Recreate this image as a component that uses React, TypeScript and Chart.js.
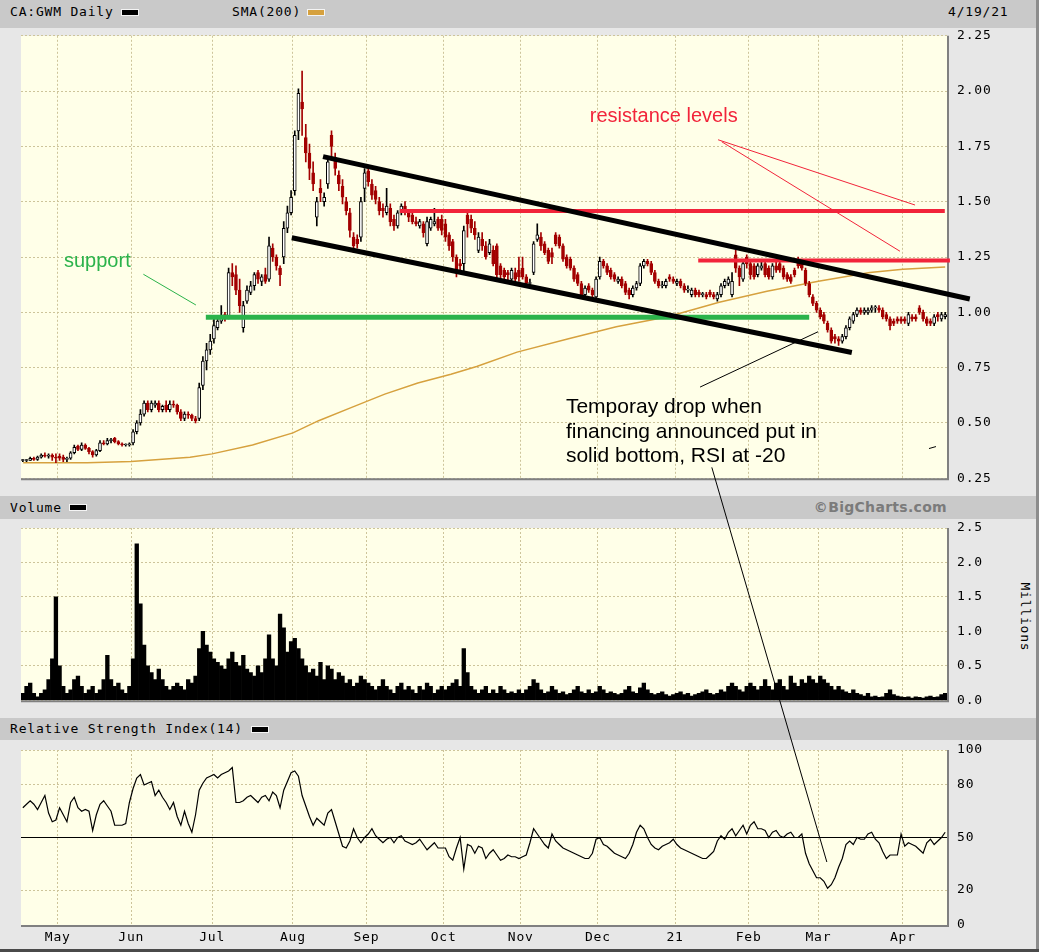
import { useEffect, useRef } from 'react';
import { Chart, registerables } from 'chart.js';

Chart.register(...registerables);

// ---------- axes ----------
const DAYS = 252;
const monthStarts = [10, 30, 52, 74, 94, 115, 136, 157, 178, 198, 217, 240];
const monthLabels = ['May', 'Jun', 'Jul', 'Aug', 'Sep', 'Oct', 'Nov', 'Dec', '21', 'Feb', 'Mar', 'Apr'];
const priceTicks = [0.25, 0.5, 0.75, 1.0, 1.25, 1.5, 1.75, 2.0, 2.25];
const volumeTicks = [0, 0.5, 1.0, 1.5, 2.0, 2.5];
const rsiTicks = [0, 20, 50, 80, 100];

// ---------- daily candles [open, high, low, close] ----------
const apr20 = [
  [0.33, 0.335, 0.325, 0.33], [0.33, 0.335, 0.325, 0.33], [0.33, 0.345, 0.33, 0.34], [0.34, 0.345, 0.33, 0.335],
  [0.335, 0.35, 0.33, 0.345], [0.345, 0.36, 0.34, 0.355], [0.355, 0.365, 0.345, 0.35], [0.35, 0.36, 0.34, 0.355],
  [0.355, 0.36, 0.33, 0.345], [0.345, 0.36, 0.32, 0.34],
];
const may20 = [
  [0.35, 0.36, 0.33, 0.34], [0.345, 0.355, 0.325, 0.335], [0.335, 0.345, 0.325, 0.34], [0.34, 0.37, 0.335, 0.365],
  [0.365, 0.40, 0.36, 0.39], [0.395, 0.40, 0.375, 0.38], [0.38, 0.41, 0.375, 0.40], [0.40, 0.405, 0.38, 0.385],
  [0.385, 0.39, 0.36, 0.37], [0.37, 0.375, 0.345, 0.355], [0.355, 0.38, 0.35, 0.375], [0.375, 0.42, 0.37, 0.41],
  [0.41, 0.42, 0.40, 0.405], [0.405, 0.43, 0.40, 0.42], [0.42, 0.43, 0.41, 0.425], [0.43, 0.435, 0.41, 0.415],
  [0.415, 0.42, 0.40, 0.405], [0.405, 0.41, 0.395, 0.40], [0.40, 0.405, 0.395, 0.40], [0.40, 0.41, 0.395, 0.405],
];
const jun20 = [
  [0.41, 0.47, 0.40, 0.46], [0.46, 0.51, 0.45, 0.50], [0.50, 0.56, 0.49, 0.54], [0.54, 0.60, 0.53, 0.59],
  [0.59, 0.60, 0.55, 0.56], [0.56, 0.60, 0.55, 0.59], [0.58, 0.60, 0.57, 0.59], [0.59, 0.60, 0.55, 0.56],
  [0.56, 0.58, 0.55, 0.575], [0.58, 0.60, 0.55, 0.56], [0.56, 0.60, 0.55, 0.585], [0.585, 0.60, 0.57, 0.58],
  [0.58, 0.585, 0.54, 0.55], [0.55, 0.56, 0.51, 0.52], [0.52, 0.55, 0.51, 0.54], [0.54, 0.55, 0.52, 0.535],
  [0.535, 0.54, 0.51, 0.52], [0.52, 0.53, 0.50, 0.51], [0.52, 0.68, 0.51, 0.66], [0.67, 0.80, 0.65, 0.78],
  [0.78, 0.86, 0.74, 0.83], [0.83, 0.90, 0.81, 0.87],
];
const jul20 = [
  [0.88, 0.97, 0.86, 0.94], [0.93, 0.97, 0.92, 0.96], [0.96, 1.03, 0.95, 0.98], [0.99, 1.00, 0.96, 0.97],
  [0.98, 1.20, 0.97, 1.18], [1.18, 1.22, 1.12, 1.16], [1.17, 1.21, 1.08, 1.10], [1.10, 1.15, 1.00, 1.03],
  [0.93, 1.05, 0.91, 1.03], [1.05, 1.12, 1.04, 1.10], [1.09, 1.14, 1.08, 1.12], [1.12, 1.18, 1.10, 1.17],
  [1.18, 1.19, 1.13, 1.15], [1.14, 1.17, 1.12, 1.16], [1.17, 1.20, 1.13, 1.14], [1.15, 1.34, 1.14, 1.30],
  [1.29, 1.31, 1.23, 1.25], [1.25, 1.26, 1.19, 1.21], [1.20, 1.21, 1.12, 1.17], [1.25, 1.41, 1.22, 1.38],
  [1.38, 1.48, 1.36, 1.45], [1.45, 1.55, 1.44, 1.52],
];
const aug20 = [
  [1.55, 1.82, 1.53, 1.80], [1.82, 2.01, 1.78, 1.99], [1.95, 2.09, 1.80, 1.92], [1.79, 1.85, 1.68, 1.72],
  [1.72, 1.76, 1.60, 1.65], [1.63, 1.68, 1.55, 1.58], [1.43, 1.52, 1.39, 1.50], [1.56, 1.60, 1.50, 1.54],
  [1.50, 1.54, 1.48, 1.52], [1.58, 1.70, 1.56, 1.68], [1.80, 1.82, 1.70, 1.75], [1.70, 1.72, 1.62, 1.65],
  [1.62, 1.64, 1.55, 1.58], [1.57, 1.60, 1.49, 1.52], [1.50, 1.52, 1.44, 1.46], [1.45, 1.47, 1.34, 1.37],
  [1.34, 1.36, 1.27, 1.30], [1.33, 1.35, 1.29, 1.31], [1.34, 1.52, 1.32, 1.50], [1.56, 1.65, 1.50, 1.63],
];
const sep20 = [
  [1.64, 1.66, 1.57, 1.59], [1.58, 1.60, 1.51, 1.53], [1.55, 1.57, 1.49, 1.51], [1.50, 1.52, 1.44, 1.46],
  [1.47, 1.49, 1.43, 1.46], [1.45, 1.56, 1.44, 1.48], [1.47, 1.49, 1.39, 1.41], [1.42, 1.44, 1.37, 1.39],
  [1.39, 1.46, 1.38, 1.45], [1.45, 1.49, 1.44, 1.48], [1.48, 1.50, 1.44, 1.45], [1.45, 1.46, 1.41, 1.43],
  [1.44, 1.45, 1.40, 1.41], [1.41, 1.43, 1.39, 1.40], [1.39, 1.42, 1.38, 1.41], [1.40, 1.41, 1.34, 1.36],
  [1.31, 1.43, 1.30, 1.41], [1.38, 1.43, 1.37, 1.42], [1.40, 1.47, 1.39, 1.41], [1.42, 1.43, 1.37, 1.38],
  [1.42, 1.44, 1.35, 1.37],
];
const oct20 = [
  [1.40, 1.42, 1.32, 1.34], [1.35, 1.36, 1.28, 1.30], [1.32, 1.33, 1.23, 1.25], [1.25, 1.26, 1.16, 1.19],
  [1.22, 1.24, 1.19, 1.21], [1.22, 1.39, 1.17, 1.37], [1.44, 1.46, 1.34, 1.40], [1.42, 1.44, 1.36, 1.38],
  [1.38, 1.41, 1.33, 1.35], [1.28, 1.36, 1.27, 1.34], [1.33, 1.36, 1.28, 1.30], [1.30, 1.32, 1.24, 1.25],
  [1.27, 1.33, 1.26, 1.31], [1.28, 1.30, 1.21, 1.22], [1.30, 1.31, 1.15, 1.17], [1.21, 1.22, 1.15, 1.17],
  [1.19, 1.20, 1.14, 1.16], [1.18, 1.19, 1.14, 1.17], [1.15, 1.20, 1.14, 1.19], [1.18, 1.20, 1.13, 1.15],
  [1.19, 1.25, 1.14, 1.16],
];
const nov20 = [
  [1.20, 1.25, 1.15, 1.16], [1.16, 1.17, 1.12, 1.13], [1.13, 1.15, 1.12, 1.13], [1.18, 1.32, 1.17, 1.31],
  [1.33, 1.40, 1.32, 1.35], [1.34, 1.36, 1.28, 1.30], [1.31, 1.32, 1.26, 1.27], [1.28, 1.29, 1.22, 1.23],
  [1.27, 1.29, 1.22, 1.25], [1.35, 1.36, 1.30, 1.31], [1.34, 1.35, 1.29, 1.30], [1.30, 1.31, 1.23, 1.24],
  [1.25, 1.26, 1.20, 1.21], [1.24, 1.25, 1.19, 1.20], [1.20, 1.21, 1.14, 1.15], [1.17, 1.18, 1.12, 1.13],
  [1.13, 1.14, 1.07, 1.08], [1.08, 1.12, 1.07, 1.11], [1.12, 1.13, 1.09, 1.10], [1.10, 1.11, 1.06, 1.08],
  [1.07, 1.16, 1.06, 1.15],
];
const dec20 = [
  [1.16, 1.25, 1.15, 1.23], [1.23, 1.24, 1.20, 1.21], [1.21, 1.22, 1.17, 1.18], [1.19, 1.20, 1.15, 1.16],
  [1.17, 1.18, 1.14, 1.15], [1.14, 1.16, 1.13, 1.15], [1.15, 1.16, 1.11, 1.12], [1.13, 1.14, 1.08, 1.09],
  [1.10, 1.11, 1.06, 1.08], [1.08, 1.12, 1.07, 1.11], [1.11, 1.14, 1.10, 1.13], [1.13, 1.22, 1.12, 1.21],
  [1.21, 1.24, 1.20, 1.23], [1.23, 1.24, 1.21, 1.22], [1.22, 1.23, 1.17, 1.18], [1.18, 1.19, 1.13, 1.14],
  [1.14, 1.15, 1.11, 1.12], [1.12, 1.14, 1.11, 1.12], [1.12, 1.15, 1.11, 1.14], [1.16, 1.17, 1.14, 1.15],
  [1.15, 1.16, 1.13, 1.14],
];
const jan21 = [
  [1.13, 1.15, 1.12, 1.14], [1.14, 1.15, 1.11, 1.12], [1.12, 1.13, 1.09, 1.10], [1.10, 1.12, 1.09, 1.10],
  [1.08, 1.11, 1.07, 1.10], [1.10, 1.11, 1.07, 1.08], [1.09, 1.10, 1.07, 1.08], [1.08, 1.09, 1.07, 1.08],
  [1.08, 1.09, 1.06, 1.07], [1.09, 1.10, 1.07, 1.08], [1.08, 1.09, 1.06, 1.07], [1.06, 1.09, 1.05, 1.08],
  [1.08, 1.13, 1.07, 1.12], [1.12, 1.15, 1.11, 1.14], [1.13, 1.16, 1.12, 1.15], [1.08, 1.18, 1.07, 1.14],
  [1.26, 1.28, 1.18, 1.20], [1.20, 1.21, 1.12, 1.16], [1.15, 1.24, 1.14, 1.22], [1.25, 1.26, 1.20, 1.22],
];
const feb21 = [
  [1.22, 1.23, 1.15, 1.17], [1.21, 1.22, 1.15, 1.16], [1.17, 1.22, 1.16, 1.21], [1.20, 1.23, 1.19, 1.21],
  [1.22, 1.23, 1.16, 1.17], [1.20, 1.21, 1.15, 1.16], [1.16, 1.22, 1.15, 1.21], [1.21, 1.23, 1.18, 1.19],
  [1.22, 1.24, 1.18, 1.19], [1.20, 1.21, 1.15, 1.16], [1.17, 1.18, 1.14, 1.15], [1.16, 1.17, 1.13, 1.14],
  [1.19, 1.20, 1.16, 1.17], [1.23, 1.25, 1.20, 1.21], [1.22, 1.24, 1.19, 1.20], [1.19, 1.20, 1.12, 1.13],
  [1.13, 1.14, 1.07, 1.08], [1.07, 1.08, 1.03, 1.04], [1.04, 1.05, 1.00, 1.01],
];
const mar21 = [
  [1.01, 1.02, 0.97, 0.98], [0.99, 1.00, 0.95, 0.96], [0.95, 0.96, 0.91, 0.92], [0.92, 0.93, 0.86, 0.87],
  [0.89, 0.90, 0.86, 0.88], [0.88, 0.89, 0.85, 0.87], [0.87, 0.90, 0.86, 0.89], [0.89, 0.94, 0.88, 0.93],
  [0.93, 0.98, 0.92, 0.97], [0.96, 1.00, 0.95, 0.99], [0.99, 1.02, 0.98, 1.01], [1.01, 1.02, 0.99, 1.00],
  [1.00, 1.02, 0.99, 1.01], [1.00, 1.02, 0.99, 1.01], [1.01, 1.03, 1.00, 1.02], [1.02, 1.03, 1.00, 1.02],
  [1.02, 1.03, 1.00, 1.01], [1.01, 1.02, 0.97, 0.98], [0.99, 1.00, 0.96, 0.97], [0.97, 0.98, 0.92, 0.94],
  [0.96, 0.97, 0.94, 0.95], [0.97, 0.98, 0.95, 0.96], [0.97, 0.98, 0.95, 0.96],
];
const apr21 = [
  [0.97, 0.98, 0.95, 0.96], [0.95, 1.00, 0.94, 0.99], [0.98, 0.99, 0.96, 0.97], [0.98, 0.99, 0.96, 0.97],
  [1.02, 1.03, 0.99, 1.00], [1.00, 1.01, 0.96, 0.97], [0.97, 0.98, 0.94, 0.95], [0.96, 0.97, 0.94, 0.95],
  [0.95, 0.99, 0.94, 0.98], [0.99, 1.00, 0.96, 0.98], [0.97, 1.00, 0.96, 0.99], [0.98, 1.00, 0.97, 0.99],
];

// ---------- SMA(200) read at sample days ----------
const smaDay = [0.6, 18, 30, 46, 52, 63, 74, 81, 90, 99, 108, 117, 124, 135, 149, 162, 176, 190, 203, 217, 231, 240, 251.5];
const smaValue = [0.32, 0.32, 0.325, 0.345, 0.36, 0.40, 0.455, 0.51, 0.57, 0.63, 0.68, 0.72, 0.755, 0.82, 0.88, 0.935, 0.98, 1.045, 1.095, 1.14, 1.18, 1.195, 1.205];

// ---------- volume (millions) ----------
const volApr20 = [0.1, 0.2, 0.25, 0.1, 0.05, 0.1, 0.15, 0.3, 0.6, 1.5];
const volMay20 = [0.5, 0.2, 0.1, 0.15, 0.3, 0.35, 0.2, 0.1, 0.15, 0.2, 0.1, 0.15, 0.3, 0.65, 0.3, 0.2, 0.25, 0.15, 0.1, 0.2];
const volJun20 = [0.6, 2.27, 1.4, 0.8, 0.5, 0.4, 0.3, 0.45, 0.3, 0.2, 0.15, 0.2, 0.25, 0.2, 0.15, 0.3, 0.25, 0.35, 0.75, 1.0, 0.8, 0.7];
const volJul20 = [0.6, 0.55, 0.5, 0.45, 0.6, 0.7, 0.55, 0.5, 0.65, 0.45, 0.4, 0.35, 0.5, 0.4, 0.6, 0.95, 0.6, 0.5, 1.25, 1.05, 0.7, 0.85];
const volAug20 = [0.9, 0.75, 0.6, 0.5, 0.4, 0.45, 0.35, 0.55, 0.3, 0.5, 0.45, 0.3, 0.4, 0.35, 0.25, 0.3, 0.2, 0.25, 0.35, 0.3];
const volSep20 = [0.25, 0.2, 0.15, 0.2, 0.3, 0.2, 0.15, 0.1, 0.2, 0.25, 0.15, 0.2, 0.15, 0.1, 0.2, 0.15, 0.25, 0.2, 0.1, 0.15, 0.2];
const volOct20 = [0.15, 0.2, 0.25, 0.3, 0.2, 0.75, 0.4, 0.2, 0.15, 0.1, 0.15, 0.2, 0.1, 0.15, 0.1, 0.2, 0.15, 0.1, 0.12, 0.1, 0.15];
const volNov20 = [0.1, 0.15, 0.2, 0.3, 0.25, 0.15, 0.1, 0.12, 0.2, 0.15, 0.1, 0.12, 0.08, 0.1, 0.15, 0.2, 0.12, 0.1, 0.15, 0.1, 0.12];
const volDec20 = [0.2, 0.15, 0.1, 0.12, 0.1, 0.08, 0.1, 0.15, 0.2, 0.12, 0.1, 0.18, 0.25, 0.15, 0.1, 0.08, 0.1, 0.12, 0.08, 0.06, 0.08];
const volJan21 = [0.1, 0.12, 0.08, 0.1, 0.06, 0.08, 0.1, 0.12, 0.15, 0.1, 0.08, 0.1, 0.15, 0.12, 0.2, 0.25, 0.2, 0.15, 0.12, 0.2];
const volFeb21 = [0.25, 0.2, 0.15, 0.2, 0.3, 0.2, 0.15, 0.25, 0.3, 0.2, 0.15, 0.35, 0.25, 0.2, 0.3, 0.25, 0.35, 0.3, 0.25];
const volMar21 = [0.35, 0.3, 0.25, 0.2, 0.15, 0.2, 0.15, 0.12, 0.1, 0.15, 0.1, 0.08, 0.06, 0.1, 0.05, 0.06, 0.04, 0.05, 0.1, 0.15, 0.08, 0.06, 0.05];
const volApr21 = [0.04, 0.05, 0.03, 0.05, 0.04, 0.03, 0.05, 0.06, 0.04, 0.05, 0.08, 0.1];

// ---------- RSI(14) ----------
const rsiApr20 = [67, 69, 71, 69, 66, 70, 74, 64, 59, 60];
const rsiMay20 = [67, 63, 59, 70, 73, 67, 65, 66, 65, 54, 63, 69, 71, 68, 65, 57, 57, 57, 58, 70];
const rsiJun20 = [78, 84, 86, 80, 81, 82, 74, 77, 73, 70, 66, 70, 62, 57, 65, 58, 53, 63, 77, 81, 84, 85];
const rsiJul20 = [86, 84, 86, 87, 88, 90, 70, 70, 71, 73, 74, 72, 70, 73, 74, 71, 76, 74, 67, 77, 82, 87];
const rsiAug20 = [88, 85, 74, 68, 62, 57, 61, 59, 57, 64, 66, 59, 52, 45, 44, 48, 55, 50, 47, 50];
const rsiSep20 = [52, 55, 51, 49, 47, 49, 50, 47, 50, 51, 48, 47, 46, 47, 49, 46, 43, 45, 47, 44, 44];
const rsiOct20 = [44, 39, 37, 44, 50, 32, 46, 45, 41, 45, 44, 38, 41, 43, 40, 37, 38, 40, 39, 39, 38];
const rsiNov20 = [39, 40, 47, 55, 52, 49, 46, 44, 52, 48, 46, 44, 43, 42, 41, 40, 39, 38, 38, 41, 49];
const rsiDec20 = [50, 46, 45, 43, 41, 40, 39, 38, 41, 46, 53, 57, 55, 50, 46, 44, 43, 45, 46, 47, 49];
const rsiJan21 = [46, 44, 43, 42, 41, 40, 39, 38, 38, 40, 42, 48, 51, 49, 53, 55, 51, 54, 57, 52];
const rsiFeb21 = [57, 59, 55, 55, 54, 50, 53, 54, 51, 50, 52, 53, 50, 50, 52, 41, 35, 31, 27];
const rsiMar21 = [27, 25, 21, 23, 27, 33, 38, 46, 48, 46, 50, 49, 49, 52, 53, 49, 47, 42, 38, 40, 40, 40, 52];
const rsiApr21 = [45, 47, 46, 45, 43, 41, 47, 49, 46, 48, 50, 53];
const rsiMidline = 50;

// ---------- annotations: [trading-day, value] ----------
const channelUpper = [[82.2, 1.704], [258.2, 1.06]];
const channelLower = [[73.7, 1.337], [226.1, 0.818]];
const supportLine = [[50.3, 0.978], [214.5, 0.978]];
const resistanceHigh = [[103.1, 1.458], [251.4, 1.458]];
const resistanceLow = [[184.3, 1.234], [252.8, 1.234]];
const resistancePointerA = [[189.7, 1.78], [243.3, 1.485]];
const resistancePointerB = [[190.7, 1.771], [239.2, 1.276]];
const supportPointer = [[33.3, 1.172], [47.6, 1.033]];
const dropPointer = [[184.8, 0.662], [216.9, 0.912]];
const strayMark = [[247.1, 0.384], [249.0, 0.393]];
const rsiPointerStart = [188.0, 0.299]; // on price panel
const rsiPointerEnd = [219.3, 36]; // on RSI panel
const resistanceText = { text: 'resistance levels', at: [154.8, 1.883] };
const supportText = { text: 'support', at: [11.7, 1.23] };
const dropText = [
  { text: 'Temporay drop when', at: [148.3, 0.572] },
  { text: 'financing announced put in', at: [148.3, 0.456] },
  { text: 'solid bottom, RSI at -20', at: [148.3, 0.349] },
];

// ---------- styling / layout ----------
const W = 1039;
const H = 952;
const PRICE_TOP = 18, PRICE_H = 478;
const VOL_TOP = 510, VOL_H = 208;
const RSI_TOP = 732, RSI_H = 220;
const FONT = 'DejaVu Sans Mono';
const tickFont = { family: FONT, size: 13 };
const GRID = '#cdc49a';
const PLOT_BG = '#ffffe8';
const RED = '#a30000';
const SMA_COLOR = '#d6a13e';
const LINE_RED = '#f2243a';
const LINE_GREEN = '#2bb34b';

function xScale(showLabels: boolean) {
  return {
    type: 'linear', min: 0, max: DAYS, offset: false,
    afterBuildTicks: (s: any) => { s.ticks = monthStarts.map((v) => ({ value: v })); },
    afterFit: (s: any) => { s.height = showLabels ? 27 : 0; },
    grid: { color: GRID, drawTicks: false, offset: false },
    border: { display: false, dash: [2, 2] },
    ticks: {
      display: showLabels, autoSkip: false, maxRotation: 0, minRotation: 0, padding: 5, color: '#000', font: tickFont,
      callback: (_v: any, i: number) => monthLabels[i],
    },
  };
}

function yScale(min: number, max: number, ticks: number[], digits: number | null) {
  return {
    type: 'linear', position: 'right', min, max,
    afterBuildTicks: (s: any) => { s.ticks = ticks.map((v) => ({ value: v })); },
    afterFit: (s: any) => { s.width = W - 947; },
    grid: { color: GRID, drawTicks: false },
    border: { display: false, dash: [2, 2] },
    ticks: {
      padding: 10, color: '#000', font: tickFont,
      callback: (v: any) => (digits === null ? String(v) : Number(v).toFixed(digits)),
    },
  };
}

const framePlugin = {
  id: 'frame',
  beforeDraw(chart: any) {
    const { ctx, chartArea: a } = chart;
    ctx.letterSpacing = '0.8px';
    ctx.save();
    ctx.fillStyle = PLOT_BG;
    ctx.fillRect(a.left, a.top, a.right - a.left, a.bottom - a.top);
    ctx.restore();
  },
  afterDraw(chart: any) {
    const { ctx, chartArea: a } = chart;
    ctx.save();
    ctx.strokeStyle = '#808080';
    ctx.lineWidth = 2;
    ctx.beginPath();
    ctx.moveTo(a.left, a.bottom + 1);
    ctx.lineTo(a.right + 1, a.bottom + 1);
    ctx.lineTo(a.right + 1, a.top);
    ctx.stroke();
    ctx.restore();
  },
};

function seg(chart: any, p: number[], q: number[], color: string, width: number) {
  const { ctx } = chart;
  const x = chart.scales.x, y = chart.scales.y;
  ctx.save();
  ctx.strokeStyle = color;
  ctx.lineWidth = width;
  ctx.lineCap = 'butt';
  ctx.beginPath();
  ctx.moveTo(x.getPixelForValue(p[0]), y.getPixelForValue(p[1]));
  ctx.lineTo(x.getPixelForValue(q[0]), y.getPixelForValue(q[1]));
  ctx.stroke();
  ctx.restore();
}

function label(chart: any, t: { text: string; at: number[] }, color: string, size: number) {
  const { ctx } = chart;
  ctx.save();
  ctx.letterSpacing = '0px';
  ctx.fillStyle = color;
  ctx.font = `${size}px "Liberation Sans", Arial, sans-serif`;
  ctx.textBaseline = 'middle';
  ctx.textAlign = 'left';
  ctx.fillText(t.text, chart.scales.x.getPixelForValue(t.at[0]), chart.scales.y.getPixelForValue(t.at[1]));
  ctx.restore();
}

const priceNotes = {
  id: 'priceNotes',
  afterDraw(chart: any) {
    seg(chart, supportLine[0], supportLine[1], LINE_GREEN, 5);
    seg(chart, resistanceHigh[0], resistanceHigh[1], LINE_RED, 4);
    seg(chart, resistanceLow[0], resistanceLow[1], LINE_RED, 4);
    seg(chart, channelUpper[0], channelUpper[1], '#000', 5);
    seg(chart, channelLower[0], channelLower[1], '#000', 5);
    seg(chart, resistancePointerA[0], resistancePointerA[1], LINE_RED, 1);
    seg(chart, resistancePointerB[0], resistancePointerB[1], LINE_RED, 1);
    seg(chart, supportPointer[0], supportPointer[1], LINE_GREEN, 1);
    seg(chart, dropPointer[0], dropPointer[1], '#000', 1);
    seg(chart, strayMark[0], strayMark[1], '#000', 1);
    label(chart, resistanceText, LINE_RED, 20);
    label(chart, supportText, LINE_GREEN, 20);
    dropText.forEach((t) => label(chart, t, '#000', 21));
  },
};

const baseOptions = (padding: any) => ({
  animation: false,
  responsive: false,
  events: [],
  layout: { padding },
  plugins: { legend: { display: false }, tooltip: { enabled: false } },
});

export default function App() {
  const priceRef = useRef<HTMLCanvasElement>(null);
  const volRef = useRef<HTMLCanvasElement>(null);
  const rsiRef = useRef<HTMLCanvasElement>(null);
  const overRef = useRef<HTMLCanvasElement>(null);

  useEffect(() => {
    const candles = [...apr20, ...may20, ...jun20, ...jul20, ...aug20, ...sep20, ...oct20, ...nov20, ...dec20, ...jan21, ...feb21, ...mar21, ...apr21];
    const volumes = [...volApr20, ...volMay20, ...volJun20, ...volJul20, ...volAug20, ...volSep20, ...volOct20, ...volNov20, ...volDec20, ...volJan21, ...volFeb21, ...volMar21, ...volApr21];
    const rsi = [...rsiApr20, ...rsiMay20, ...rsiJun20, ...rsiJul20, ...rsiAug20, ...rsiSep20, ...rsiOct20, ...rsiNov20, ...rsiDec20, ...rsiJan21, ...rsiFeb21, ...rsiMar21, ...rsiApr21];
    const down = candles.map((c) => c[3] < c[0]);

    const price = new Chart(priceRef.current as HTMLCanvasElement, {
      type: 'bar',
      data: {
        datasets: [
          {
            type: 'bar',
            data: candles.map((c, i) => ({ x: i + 0.5, y: [c[0], c[3]] })),
            backgroundColor: down.map((d) => (d ? RED : '#ffffff')),
            borderColor: down.map((d) => (d ? RED : '#000000')),
            borderWidth: 1, borderSkipped: false, barThickness: 3, minBarLength: 1, grouped: false,
          },
          {
            type: 'bar',
            data: candles.map((c, i) => ({ x: i + 0.5, y: [c[2], c[1]] })),
            backgroundColor: down.map((d) => (d ? RED : '#000000')),
            borderWidth: 0, barThickness: 1, grouped: false,
          },
          {
            type: 'line',
            data: smaDay.map((d, k) => ({ x: d, y: smaValue[k] })),
            borderColor: SMA_COLOR, borderWidth: 1.5, pointRadius: 0, tension: 0,
          },
        ],
      } as any,
      options: {
        ...baseOptions({ left: 21, right: 0, top: 15, bottom: 15 }),
        scales: { x: xScale(false), y: yScale(0.25, 2.25, priceTicks, 2) },
      } as any,
      plugins: [framePlugin, priceNotes],
    });

    const vol = new Chart(volRef.current as HTMLCanvasElement, {
      type: 'bar',
      data: {
        datasets: [
          {
            data: volumes.map((v, i) => ({ x: i + 0.5, y: v })),
            backgroundColor: '#000000', borderWidth: 0, barPercentage: 1, categoryPercentage: 1, grouped: false,
          },
        ],
      } as any,
      options: {
        ...baseOptions({ left: 21, right: 0, top: 18, bottom: 15 }),
        scales: { x: xScale(false), y: yScale(0, 2.5, volumeTicks, 1) },
      } as any,
      plugins: [framePlugin],
    });

    const rsiChart = new Chart(rsiRef.current as HTMLCanvasElement, {
      type: 'line',
      data: {
        datasets: [
          {
            data: rsi.map((v, i) => ({ x: i + 0.5, y: v })),
            borderColor: '#000000', borderWidth: 1.2, pointRadius: 0, tension: 0,
          },
          {
            data: [{ x: 0, y: rsiMidline }, { x: DAYS, y: rsiMidline }],
            borderColor: '#000000', borderWidth: 1, pointRadius: 0,
          },
        ],
      } as any,
      options: {
        ...baseOptions({ left: 21, right: 0, top: 18, bottom: 0 }),
        scales: { x: xScale(true), y: yScale(0, 100, rsiTicks, null) },
      } as any,
      plugins: [framePlugin],
    });

    const ov = (overRef.current as HTMLCanvasElement).getContext('2d') as CanvasRenderingContext2D;
    ov.clearRect(0, 0, W, H);
    const px = (price.scales as any).x.getPixelForValue(rsiPointerStart[0]);
    const py = PRICE_TOP + (price.scales as any).y.getPixelForValue(rsiPointerStart[1]);
    const qx = (rsiChart.scales as any).x.getPixelForValue(rsiPointerEnd[0]);
    const qy = RSI_TOP + (rsiChart.scales as any).y.getPixelForValue(rsiPointerEnd[1]);
    ov.strokeStyle = '#000';
    ov.lineWidth = 1;
    ov.beginPath();
    ov.moveTo(px, py);
    ov.lineTo(qx, qy);
    ov.stroke();

    return () => {
      price.destroy();
      vol.destroy();
      rsiChart.destroy();
      ov.clearRect(0, 0, W, H);
    };
  }, []);

  const hdr: any = {
    position: 'absolute', fontFamily: FONT, fontSize: 13, letterSpacing: '0.8px', color: '#000',
    lineHeight: '16px', whiteSpace: 'pre', margin: 0,
  };
  const band = (top: number, height: number): any => ({
    position: 'absolute', left: 0, top, width: W, height, background: '#c9c9c9',
  });
  const swatch = (left: number, top: number, color: string): any => ({
    position: 'absolute', left, top, width: 16, height: 5, background: color, boxShadow: '0 0 0 1px #f4f4f4',
  });

  return (
    <div style={{ position: 'absolute', left: 0, top: 0, width: W, height: H, background: '#e7e7e7', overflow: 'hidden' }}>
      <div style={band(0, 28)} />
      <div style={band(496, 23)} />
      <div style={band(718, 22)} />
      <div style={{ ...hdr, left: 10, top: 4 }}>CA:GWM Daily</div>
      <div style={swatch(122, 10, '#000')} />
      <div style={{ ...hdr, left: 232, top: 4 }}>SMA(200)</div>
      <div style={swatch(308, 10, SMA_COLOR)} />
      <div style={{ ...hdr, left: 948, top: 4 }}>4/19/21</div>
      <div style={{ ...hdr, left: 10, top: 500 }}>Volume</div>
      <div style={swatch(70, 505, '#000')} />
      <div style={{ ...hdr, right: W - 947, top: 499, fontFamily: '"DejaVu Sans", sans-serif', fontWeight: 'bold', fontSize: 14, letterSpacing: '0.3px', color: '#7b7b7b' }}>©BigCharts.com</div>
      <div style={{ ...hdr, left: 10, top: 721 }}>Relative Strength Index(14)</div>
      <div style={swatch(252, 727, '#000')} />
      <div style={{ ...hdr, left: 1025 - 40, top: 617 - 8, width: 80, textAlign: 'center', transform: 'rotate(90deg)' }}>Millions</div>
      <div style={{ position: 'absolute', left: W - 3, top: 0, width: 3, height: H, background: '#8c8c8c' }} />
      <div style={{ position: 'absolute', left: 0, top: H - 3, width: W, height: 3, background: '#4a4a4a' }} />
      <canvas ref={priceRef} width={W} height={PRICE_H} style={{ position: 'absolute', left: 0, top: PRICE_TOP, width: W, height: PRICE_H }} />
      <canvas ref={volRef} width={W} height={VOL_H} style={{ position: 'absolute', left: 0, top: VOL_TOP, width: W, height: VOL_H }} />
      <canvas ref={rsiRef} width={W} height={RSI_H} style={{ position: 'absolute', left: 0, top: RSI_TOP, width: W, height: RSI_H }} />
      <canvas ref={overRef} width={W} height={H} style={{ position: 'absolute', left: 0, top: 0, width: W, height: H, pointerEvents: 'none' }} />
    </div>
  );
}
